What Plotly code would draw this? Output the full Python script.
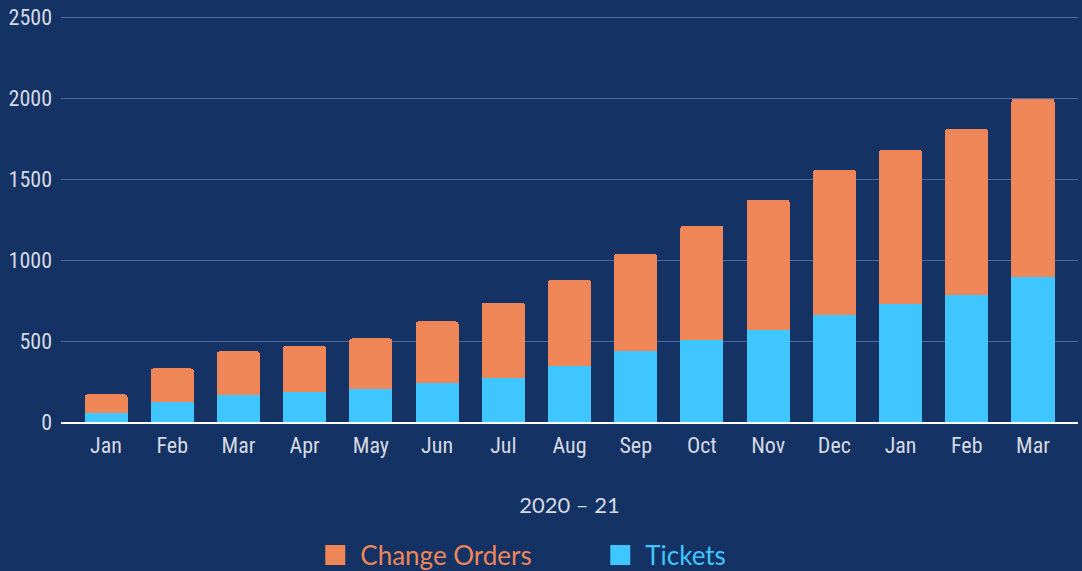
import plotly.graph_objects as go

months = ["Jan", "Feb", "Mar", "Apr", "May", "Jun", "Jul", "Aug", "Sep", "Oct", "Nov", "Dec", "Jan", "Feb", "Mar"]
tickets = [55, 125, 169, 184, 206, 241, 274, 344, 436, 506, 566, 658, 726, 782, 897]
change_orders = [115, 206, 267, 287, 310, 380, 463, 533, 603, 706, 808, 900, 957, 1029, 1099]
y_ticks = [0, 500, 1000, 1500, 2000, 2500]

ORANGE = "#EE8658"
BLUE = "#3FC6FF"
BG = "#143264"
x = list(range(len(months)))

fig = go.Figure()
fig.add_trace(go.Bar(x=x, y=tickets, marker=dict(color=BLUE, line=dict(width=0)),
                     showlegend=False, name="Tickets"))
fig.add_trace(go.Bar(x=x, y=change_orders, marker=dict(color=ORANGE, line=dict(width=0)),
                     showlegend=False, name="Change Orders"))
# legend entries
fig.add_trace(go.Scatter(x=[None], y=[None], mode="markers",
                         marker=dict(symbol="square", size=16, color=ORANGE,
                                     line=dict(color=ORANGE, width=4)),
                         name=f"<span style='color:{ORANGE}'>Change Orders</span>"))
fig.add_trace(go.Scatter(x=[None], y=[None], mode="markers",
                         marker=dict(symbol="square", size=16, color=BLUE,
                                     line=dict(color=BLUE, width=4)),
                         name=f"<span style='color:{BLUE}'>Tickets</span>"))

tick_font = dict(family="Liberation Sans Narrow, Arial Narrow, Roboto Condensed, sans-serif",
                 size=22, color="#D6DAE3")

fig.update_layout(
    width=1082, height=571,
    paper_bgcolor=BG, plot_bgcolor=BG,
    margin=dict(l=61, r=4, t=14, b=149, autoexpand=False),
    barmode="stack", bargap=0.35, barcornerradius=3,
    xaxis=dict(
        tickmode="array", tickvals=x, ticktext=months,
        range=[-0.68, 14.68], showgrid=False, zeroline=False,
        showline=True, linecolor="#FFFFFF", linewidth=2,
        ticks="", tickfont=tick_font, ticklabelstandoff=3, automargin=False,
        title=dict(text="2020 – 21", standoff=40,
                   font=dict(family="Lato, Open Sans, sans-serif", size=22, color="#D6DAE3")),
    ),
    yaxis=dict(
        range=[0, 2520], tickvals=y_ticks, ticktext=[str(v) for v in y_ticks],
        showgrid=True, gridcolor="#4E6A98", gridwidth=1,
        zeroline=False, showline=False, ticks="", ticklabelstandoff=8,
        tickfont=tick_font, automargin=False,
    ),
    legend=dict(orientation="h", x=0.2451, xanchor="left", y=-0.326, yanchor="middle",
                traceorder="normal",
                font=dict(family="Lato, Open Sans, sans-serif", size=26),
                itemsizing="trace", bgcolor="rgba(0,0,0,0)",
                entrywidth=230, entrywidthmode="pixels", itemwidth=40),
)

fig.write_html("out.html", config={"displayModeBar": False},
               post_script="document.body.style.margin='0';")
